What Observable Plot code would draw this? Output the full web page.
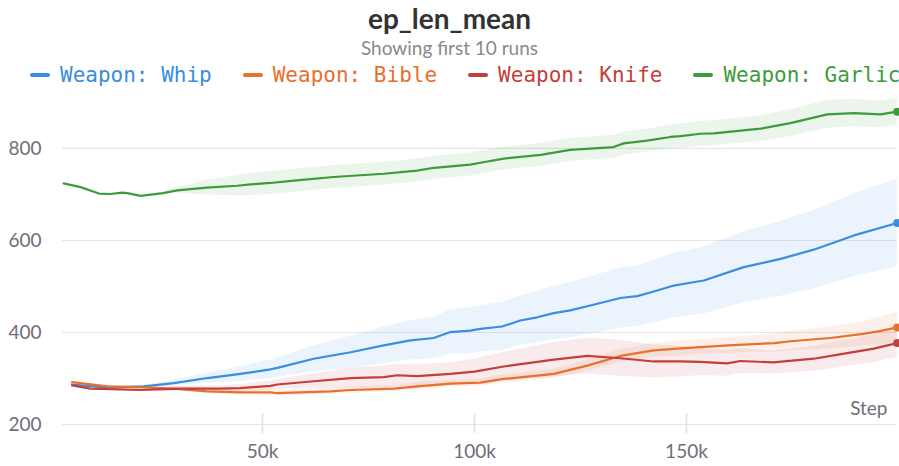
<!DOCTYPE html>
<html><head><meta charset="utf-8">
<script src="https://cdn.jsdelivr.net/npm/d3@7"></script>
<script src="https://cdn.jsdelivr.net/npm/@observablehq/plot@0.6"></script>
<style>
body{margin:0;background:#fff;}
#wrap{position:relative;width:899px;height:466px;overflow:hidden;background:#fff;}
#chart{position:absolute;top:0;left:0;}
#title{position:absolute;top:2px;left:0;width:899px;text-align:center;font-family:Lato;font-weight:bold;font-size:28px;color:#333;line-height:32px;}
#sub{position:absolute;top:37px;left:0;width:899px;text-align:center;font-family:Lato;font-size:19px;color:#8a8a8a;line-height:22px;}
#legend{position:absolute;top:62px;left:30px;display:flex;align-items:center;font-family:"DejaVu Sans Mono";font-size:21px;line-height:26px;white-space:nowrap;}
.item{display:flex;align-items:center;margin-right:31px;}
.dash{width:20px;height:4px;border-radius:2px;margin-right:10px;}
</style></head><body>
<div id="wrap">
<div id="chart"></div>
<div id="title">ep_len_mean</div>
<div id="sub">Showing first 10 runs</div>
<div id="legend"></div>
</div>
<script>
const seriesNames = ["Weapon: Whip", "Weapon: Bible", "Weapon: Knife", "Weapon: Garlic"];
const seriesColors = ["#3a8de0", "#e8702d", "#c23f3c", "#3d9c3a"];
const yTicks = [200, 400, 600, 800];
const xTicks = [50000, 100000, 150000];

// steps in thousands
const whipSteps = [5.1,13.4,22,29.1,37,44.8,51.9,53.5,62.1,70.8,78.6,84.9,90.4,94.3,99,101.4,106.5,110.8,114.8,118.7,122.6,126.6,134.4,138.4,142.3,147,150.2,154.1,163.5,172.2,180,189.5,199.7];
const whipMean = [287,280,283,290,301,310,320,323,343,357,372,383,388,401,404,408,413,426,433,442,448,457,475,479,489,502,507,513,542,560,580,611,638];
const whipSpread = [0,1,3,6,11,16,20,21,28,35,40,43,45,48,50,50,52,54,56,58,60,62,65,66,68,70,71,73,77,81,85,90,95];

const bibleSteps = [5.1,13.4,21.2,29.1,37,44.8,51.9,53.5,66,70.8,81,86.5,94.3,101.4,106.9,118.7,126.6,134.4,142.3,147.8,153.3,159.8,170.8,174.5,183.9,191.7,195.6,199.7];
const bibleMean = [292,283,281,278,272,270,270,268,272,275,278,283,289,291,299,310,328,349,361,365,368,372,377,381,388,397,403,411];
const bibleSpread = [0,2,3,4,5,5,6,6,6,7,7,8,8,8,9,10,12,14,15,16,16,17,20,21,24,27,30,33];

const knifeSteps = [5.1,9.4,21.2,30.6,40,44.8,51.9,53.5,62.1,70.8,78.6,81.8,86.5,94.3,100,106.9,118.7,126.6,134.4,142.3,148.6,153.3,159.6,162.7,170.5,180,187.9,194.2,199.7];
const knifeMean = [285,278,275,278,278,279,284,287,294,301,303,307,305,310,315,326,341,349,344,337,337,336,333,338,335,343,355,365,377];
const knifeSpread = [0,2,3,5,6,8,10,11,16,22,24,24,25,25,27,31,37,39,39,36,33,30,28,27,25,27,29,30,31];

const garlicSteps = [3.1,7.1,11.4,14.1,16.9,18.1,21.2,26.6,29.9,36.9,44,47.2,51.9,57.4,66.8,78.6,86.5,90.4,99,101.4,106.9,115.6,122.6,132.8,135.2,140.7,146.2,148.6,153.3,156.4,167.5,174.5,183.2,189.5,195.8,199.7];
const garlicMean = [724,716,702,701,704,703,697,703,709,715,719,722,725,730,738,745,752,758,765,769,778,786,797,803,811,817,825,827,832,833,843,855,874,877,874,880];
const garlicSpread = [0,0,0,0,0,0,0,3,6,16,22,24,25,25,25,25,25,25,25,25,25,25,25,25,25,25,26,26,27,27,28,29,30,30,29,29];

const src = [
  [whipSteps, whipMean, whipSpread],
  [bibleSteps, bibleMean, bibleSpread],
  [knifeSteps, knifeMean, knifeSpread],
  [garlicSteps, garlicMean, garlicSpread]
];
const rows = [];
const lastRows = [];
src.forEach(([s, m, sp], k) => {
  s.forEach((v, i) => rows.push({series: seriesNames[k], step: v * 1000, mean: m[i], lo: m[i] - sp[i], hi: m[i] + sp[i]}));
  lastRows.push(rows[rows.length - 1]);
});

const chart = Plot.plot({
  width: 899, height: 466,
  marginTop: 90, marginBottom: 42, marginLeft: 62, marginRight: 2,
  x: {domain: [2830, 199770]},
  y: {domain: [200, 926]},
  color: {domain: seriesNames, range: seriesColors},
  style: {fontFamily: "Lato", fontSize: "19px", color: "#6e6e78", background: "#fff"},
  marks: [
    Plot.gridY(yTicks, {stroke: "#e6e6e6", strokeOpacity: 1, strokeWidth: 1.2}),
    Plot.ruleX(xTicks, {y1: 200, y2: 200, insetTop: -11, insetBottom: -9, stroke: "#e0e0e0", strokeWidth: 1.5}),
    Plot.axisY(yTicks, {tickSize: 0, tickPadding: 21, label: null, fill: "#6e6e78", fontSize: 19}),
    Plot.axisX(xTicks, {tickSize: 0, tickPadding: 20, label: null, tickFormat: d => d / 1000 + "k", fill: "#6e6e78", fontSize: 19}),
    Plot.areaY(rows, {x: "step", y1: "lo", y2: "hi", z: "series", fill: "series", fillOpacity: 0.1}),
    Plot.line(rows, {x: "step", y: "mean", z: "series", stroke: "series", strokeWidth: 2.2}),
    Plot.dot(lastRows, {x: "step", y: "mean", fill: "series", r: 4}),
    Plot.text(["Step"], {frameAnchor: "bottom-right", dx: -10, dy: -10, lineAnchor: "bottom", textAnchor: "end", fill: "#6e6e78", fontSize: 19})
  ]
});
document.getElementById("chart").appendChild(chart);

const leg = document.getElementById("legend");
seriesNames.forEach((n, i) => {
  const it = document.createElement("div");
  it.className = "item";
  const d = document.createElement("div");
  d.className = "dash";
  d.style.background = seriesColors[i];
  const t = document.createElement("span");
  t.textContent = n;
  t.style.color = seriesColors[i];
  it.appendChild(d); it.appendChild(t);
  leg.appendChild(it);
});
</script>
</body></html>
